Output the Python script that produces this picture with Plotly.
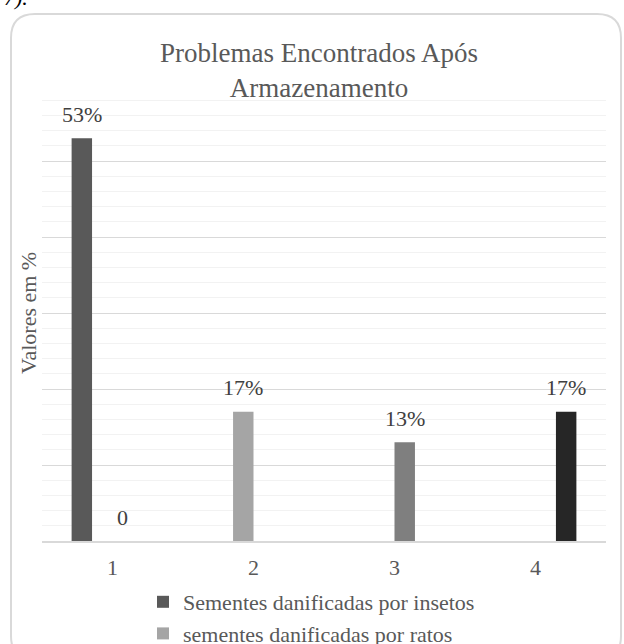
import plotly.graph_objects as go

# Chart data
categories = ["1", "2", "3", "4"]
series_names = [
    "Sementes danificadas por insetos",
    "sementes danificadas por ratos",
    "Série 3",
    "Série 4",
]
insetos = [53, None, None, None]
ratos = [None, 17, None, None]
serie3 = [0, None, 13, None]
serie4 = [None, None, None, 17]
title_lines = ["Problemas Encontrados Após", "Armazenamento"]
y_title = "Valores em %"

all_series = [insetos, ratos, serie3, serie4]
colors = ["#595959", "#a5a5a5", "#7f7f7f", "#262626"]
show_in_legend = [True, True, False, False]

W, H = 624, 644
ML, MR, MT, MB = 42, 18, 85, 103
BARGAP = 0.42
FONT = "Times New Roman, Liberation Serif, serif"


def px2x(px):
    return (px - ML) / (W - ML - MR)


def py2y(py):
    return (H - MB - py) / (H - MT - MB)


def label_for(v):
    return f"{v}%" if v else f"{v}"


fig = go.Figure()
for name, vals, col, leg in zip(series_names, all_series, colors, show_in_legend):
    fig.add_trace(go.Bar(
        x=categories, y=vals, name=name, marker_color=col,
        marker_line_width=0, showlegend=leg,
    ))

# value labels above each bar
n = len(all_series)
bw = (1 - BARGAP) / n
annotations = []
for k, vals in enumerate(all_series):
    for i, v in enumerate(vals):
        if v is None:
            continue
        annotations.append(dict(
            x=i + (k - (n - 1) / 2) * bw, y=v, xref="x", yref="y",
            text=label_for(v), showarrow=False, yanchor="middle", yshift=24,
            font=dict(family=FONT, size=22, color="#404040"),
        ))

# chart title
annotations.append(dict(
    x=px2x(319), y=py2y(36), xref="paper", yref="paper",
    text="<br>".join(title_lines), showarrow=False,
    xanchor="center", yanchor="top", align="center",
    font=dict(family=FONT, size=27, color="#595959"),
))

# vertical axis title
annotations.append(dict(
    x=px2x(28), y=0.5, xref="paper", yref="paper", text=y_title,
    textangle=-90, showarrow=False, xanchor="center", yanchor="middle",
    font=dict(family=FONT, size=22, color="#595959"),
))

# fragment of surrounding document text
annotations.append(dict(
    x=px2x(2), y=py2y(12), xref="paper", yref="paper", text="<i>7).</i>",
    showarrow=False, xanchor="left", yanchor="bottom",
    font=dict(family=FONT, size=22, color="#000000"),
))

# rounded chart frame
r = 24
x0, x1, y0, y1 = 11, 621, 14, 660
pts = [
    ("M", (x0 + r, y0)), ("L", (x1 - r, y0)), ("Q", (x1, y0), (x1, y0 + r)),
    ("L", (x1, y1 - r)), ("Q", (x1, y1), (x1 - r, y1)), ("L", (x0 + r, y1)),
    ("Q", (x0, y1), (x0, y1 - r)), ("L", (x0, y0 + r)), ("Q", (x0, y0), (x0 + r, y0)),
]
path = ""
for seg in pts:
    cmd = seg[0]
    coords = " ".join(f"{px2x(p[0]):.5f},{py2y(p[1]):.5f}" for p in seg[1:])
    path += f"{cmd}{coords} "
path += "Z"

fig.update_layout(
    width=W, height=H,
    margin=dict(l=ML, r=MR, t=MT, b=MB, autoexpand=False),
    paper_bgcolor="white", plot_bgcolor="white",
    barmode="group", bargap=BARGAP, bargroupgap=0,
    font=dict(family=FONT, size=22, color="#595959"),
    xaxis=dict(
        type="category", showgrid=False, showline=True, linecolor="#d9d9d9",
        linewidth=1.5, ticks="", ticklabelstandoff=6,
        tickfont=dict(family=FONT, size=22, color="#595959"),
    ),
    yaxis=dict(
        range=[0, 60], dtick=10, showticklabels=False, zeroline=False,
        showgrid=True, gridcolor="#d9d9d9", gridwidth=1,
        minor=dict(dtick=2, showgrid=True, gridcolor="#f2f2f2", gridwidth=1),
    ),
    legend=dict(
        orientation="v", x=px2x(143), y=py2y(581), xanchor="left",
        yanchor="top", xref="paper", yref="paper",
        font=dict(family=FONT, size=22, color="#595959"),
        bgcolor="rgba(0,0,0,0)", tracegroupgap=0, itemclick=False,
    ),
    annotations=annotations,
    shapes=[dict(type="path", path=path, xref="paper", yref="paper",
                 line=dict(color="#d9d9d9", width=2), layer="above")],
)

fig.write_html("out.html")
